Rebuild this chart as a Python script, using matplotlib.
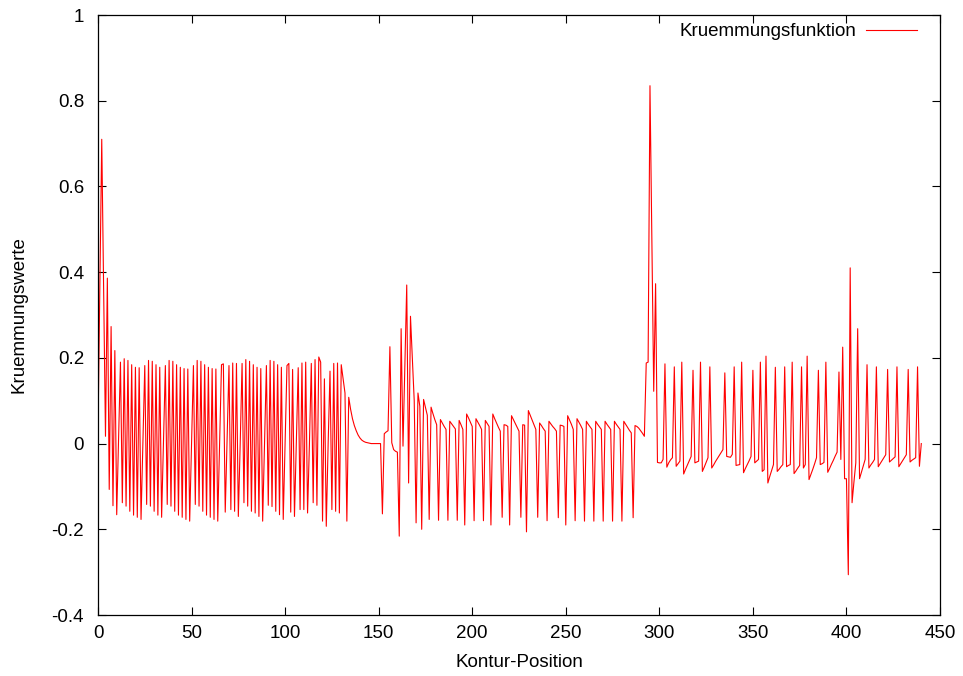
import numpy as np
import matplotlib
matplotlib.use("Agg")
import matplotlib.pyplot as plt

# Curvature values, position 0..440
seg_start = [0.03, 0.37, 0.71, 0.36, 0.017, 0.386, -0.107, 0.273, -0.145, 0.217,
             -0.166, 0.01, 0.19, -0.138, 0.198, -0.146, 0.194, -0.158, 0.184, -0.167,
             0.178, -0.172, 0.177, -0.177, 0.0, 0.182, -0.142, 0.194, -0.146, 0.192,
             -0.158, 0.184, -0.167, 0.178, -0.172, 0.0, 0.182, -0.142, 0.194, -0.146,
             0.192, -0.158, 0.184, -0.167, 0.178, -0.172, 0.175, -0.177, 0.174, -0.181,
             0.0, 0.182, -0.142, 0.194, -0.146, 0.192, -0.158, 0.184, -0.167, 0.178,
             -0.172, 0.175, -0.177, 0.174, -0.181, 0.0, 0.184, 0.186, -0.16, 0.01,
             0.182, -0.154, 0.188, -0.158, 0.187, -0.17, 0.0, 0.187, -0.138, 0.196,
             -0.146, 0.192, -0.158, 0.184, -0.162, 0.178, -0.17, 0.175, -0.181, 0.0,
             0.182, -0.144, 0.194, -0.147, 0.192, -0.158, 0.184, -0.166, 0.178, -0.177,
             0.0, 0.182, 0.187, -0.16, 0.173, -0.17, 0.0, 0.177, -0.154, 0.188,
             -0.154, 0.19, -0.162, 0.0, 0.187, -0.138, 0.196, -0.144, 0.202, 0.19,
             -0.181, 0.151, -0.193, 0.0, 0.169, -0.154, 0.187, -0.158, 0.188, -0.162,
             0.184, 0.15, 0.118, -0.181, 0.108]
seg_flat = [0.08, 0.058, 0.042, 0.03, 0.02, 0.013, 0.008, 0.005, 0.003, 0.002,
            0.001, 0.0, 0.0, 0.0, 0.0, 0.0, 0.0, -0.164, 0.023, 0.027,
            0.03, 0.226, 0.002, -0.014, -0.018, -0.02, -0.216, 0.268, -0.006, 0.18,
            0.37, -0.092, 0.297, 0.2, 0.1]
seg_mid = [-0.185, 0.118, 0.087, -0.2, 0.103, 0.085, 0.066, -0.177, 0.085, 0.07,
           0.056, 0.044, -0.179, 0.056, 0.048, 0.04, 0.033, -0.179, 0.052, 0.046,
           0.04, 0.034, -0.179, 0.054, 0.044, 0.033, -0.19, 0.069, 0.06, 0.05,
           0.04, -0.18, 0.058, 0.05, 0.042, 0.033, -0.18, 0.054, 0.047, 0.04,
           -0.19, 0.069, 0.058, 0.048, 0.038, 0.029, -0.172, 0.044, 0.043, 0.04,
           -0.19, 0.065, 0.056, 0.047, 0.038, 0.029, -0.172, 0.044, 0.043, -0.206,
           0.077, 0.066, 0.055, 0.044, 0.033, -0.172, 0.048, 0.042, 0.035, 0.029,
           -0.18, 0.052, 0.046, 0.04, 0.035, 0.029, -0.173, 0.043, 0.042, 0.04,
           -0.19, 0.065, 0.055, 0.045, 0.033, -0.18, 0.058, 0.05, 0.042, 0.033,
           -0.181, 0.052, 0.045, 0.039, 0.033, -0.181, 0.052, 0.045, 0.039, 0.033,
           -0.181, 0.052, 0.045, 0.039, 0.033, -0.181, 0.052, 0.045, 0.039, 0.033,
           -0.181, 0.052, 0.045, 0.038, 0.031, 0.025, -0.173, 0.042, 0.04, 0.036,
           0.03, 0.024, 0.017, 0.188, 0.19, 0.835, 0.48, 0.122, 0.373, -0.044]
seg_end = [-0.045, -0.045, -0.037, 0.186, -0.055, -0.045, -0.038, -0.033, 0.179, -0.053,
           -0.047, -0.041, 0.19, -0.071, -0.06, -0.05, -0.04, -0.03, 0.171, -0.045,
           -0.043, -0.041, 0.19, -0.065, -0.055, -0.044, -0.033, 0.179, -0.057, -0.05,
           -0.042, -0.035, -0.028, -0.021, -0.014, 0.165, -0.03, -0.031, -0.032, -0.025,
           0.179, -0.051, -0.05, -0.049, 0.19, -0.068, -0.058, -0.049, -0.04, -0.03,
           0.171, -0.045, -0.041, -0.037, 0.19, -0.065, -0.061, 0.204, -0.092, -0.077,
           -0.063, -0.049, 0.178, -0.065, -0.06, -0.054, -0.049, 0.179, -0.054, -0.051,
           -0.049, 0.19, -0.07, -0.064, -0.057, -0.051, 0.179, -0.057, -0.049, 0.204,
           -0.084, -0.072, -0.06, -0.047, -0.033, 0.171, -0.049, -0.047, -0.044, 0.19,
           -0.067, -0.058, -0.048, -0.039, -0.029, -0.02, 0.167, -0.037, 0.225, -0.082,
           -0.082, -0.306, 0.41, -0.138, -0.09, -0.045, 0.268, -0.082, -0.067, -0.052,
           -0.037, 0.184, -0.057, -0.05, -0.044, -0.037, 0.179, -0.054, -0.047, -0.04,
           -0.033, -0.026, 0.173, -0.043, -0.039, -0.035, -0.031, 0.179, -0.054, -0.047,
           -0.04, -0.033, -0.026, 0.173, -0.043, -0.039, -0.036, -0.033, 0.179, -0.053,
           0.0]

values = seg_start + seg_flat + seg_mid + seg_end
positions = np.arange(len(values))

xticks = [0, 50, 100, 150, 200, 250, 300, 350, 400, 450]
yticks = [-0.4, -0.2, 0, 0.2, 0.4, 0.6, 0.8, 1]
ytick_labels = ["-0.4", "-0.2", "0", "0.2", "0.4", "0.6", "0.8", "1"]

plt.rcParams['font.family'] = ['Liberation Sans', 'DejaVu Sans']
FS = 13.5

fig = plt.figure(figsize=(9.63, 6.76), dpi=100)
ax = fig.add_axes([98/963, 1 - 615/676, (940-98)/963, 600/676])

ax.plot(positions, values, color='#ff0000', lw=0.8, label='Kruemmungsfunktion')

ax.set_xlim(0, 450)
ax.set_ylim(-0.4, 1)
ax.set_xticks(xticks)
ax.set_xticklabels([str(t) for t in xticks])
ax.set_yticks(yticks)
ax.set_yticklabels(ytick_labels)
ax.tick_params(direction='in', length=6, width=0.8, top=True, right=True,
               labelsize=FS, colors='black')
ax.tick_params(axis='y', pad=10)
ax.tick_params(axis='x', pad=7)
for s in ax.spines.values():
    s.set_linewidth(0.9)

ax.set_xlabel('Kontur-Position', fontsize=FS, labelpad=9)
ax.set_ylabel('Kruemmungswerte', fontsize=FS, labelpad=17)

ax.legend(loc='upper right', bbox_to_anchor=((917-98)/842, (615-23)/600),
          markerfirst=False, frameon=False, handlelength=2.72, handletextpad=0.5,
          borderaxespad=0, borderpad=0, fontsize=FS)

fig.savefig('out.png', dpi=100)
